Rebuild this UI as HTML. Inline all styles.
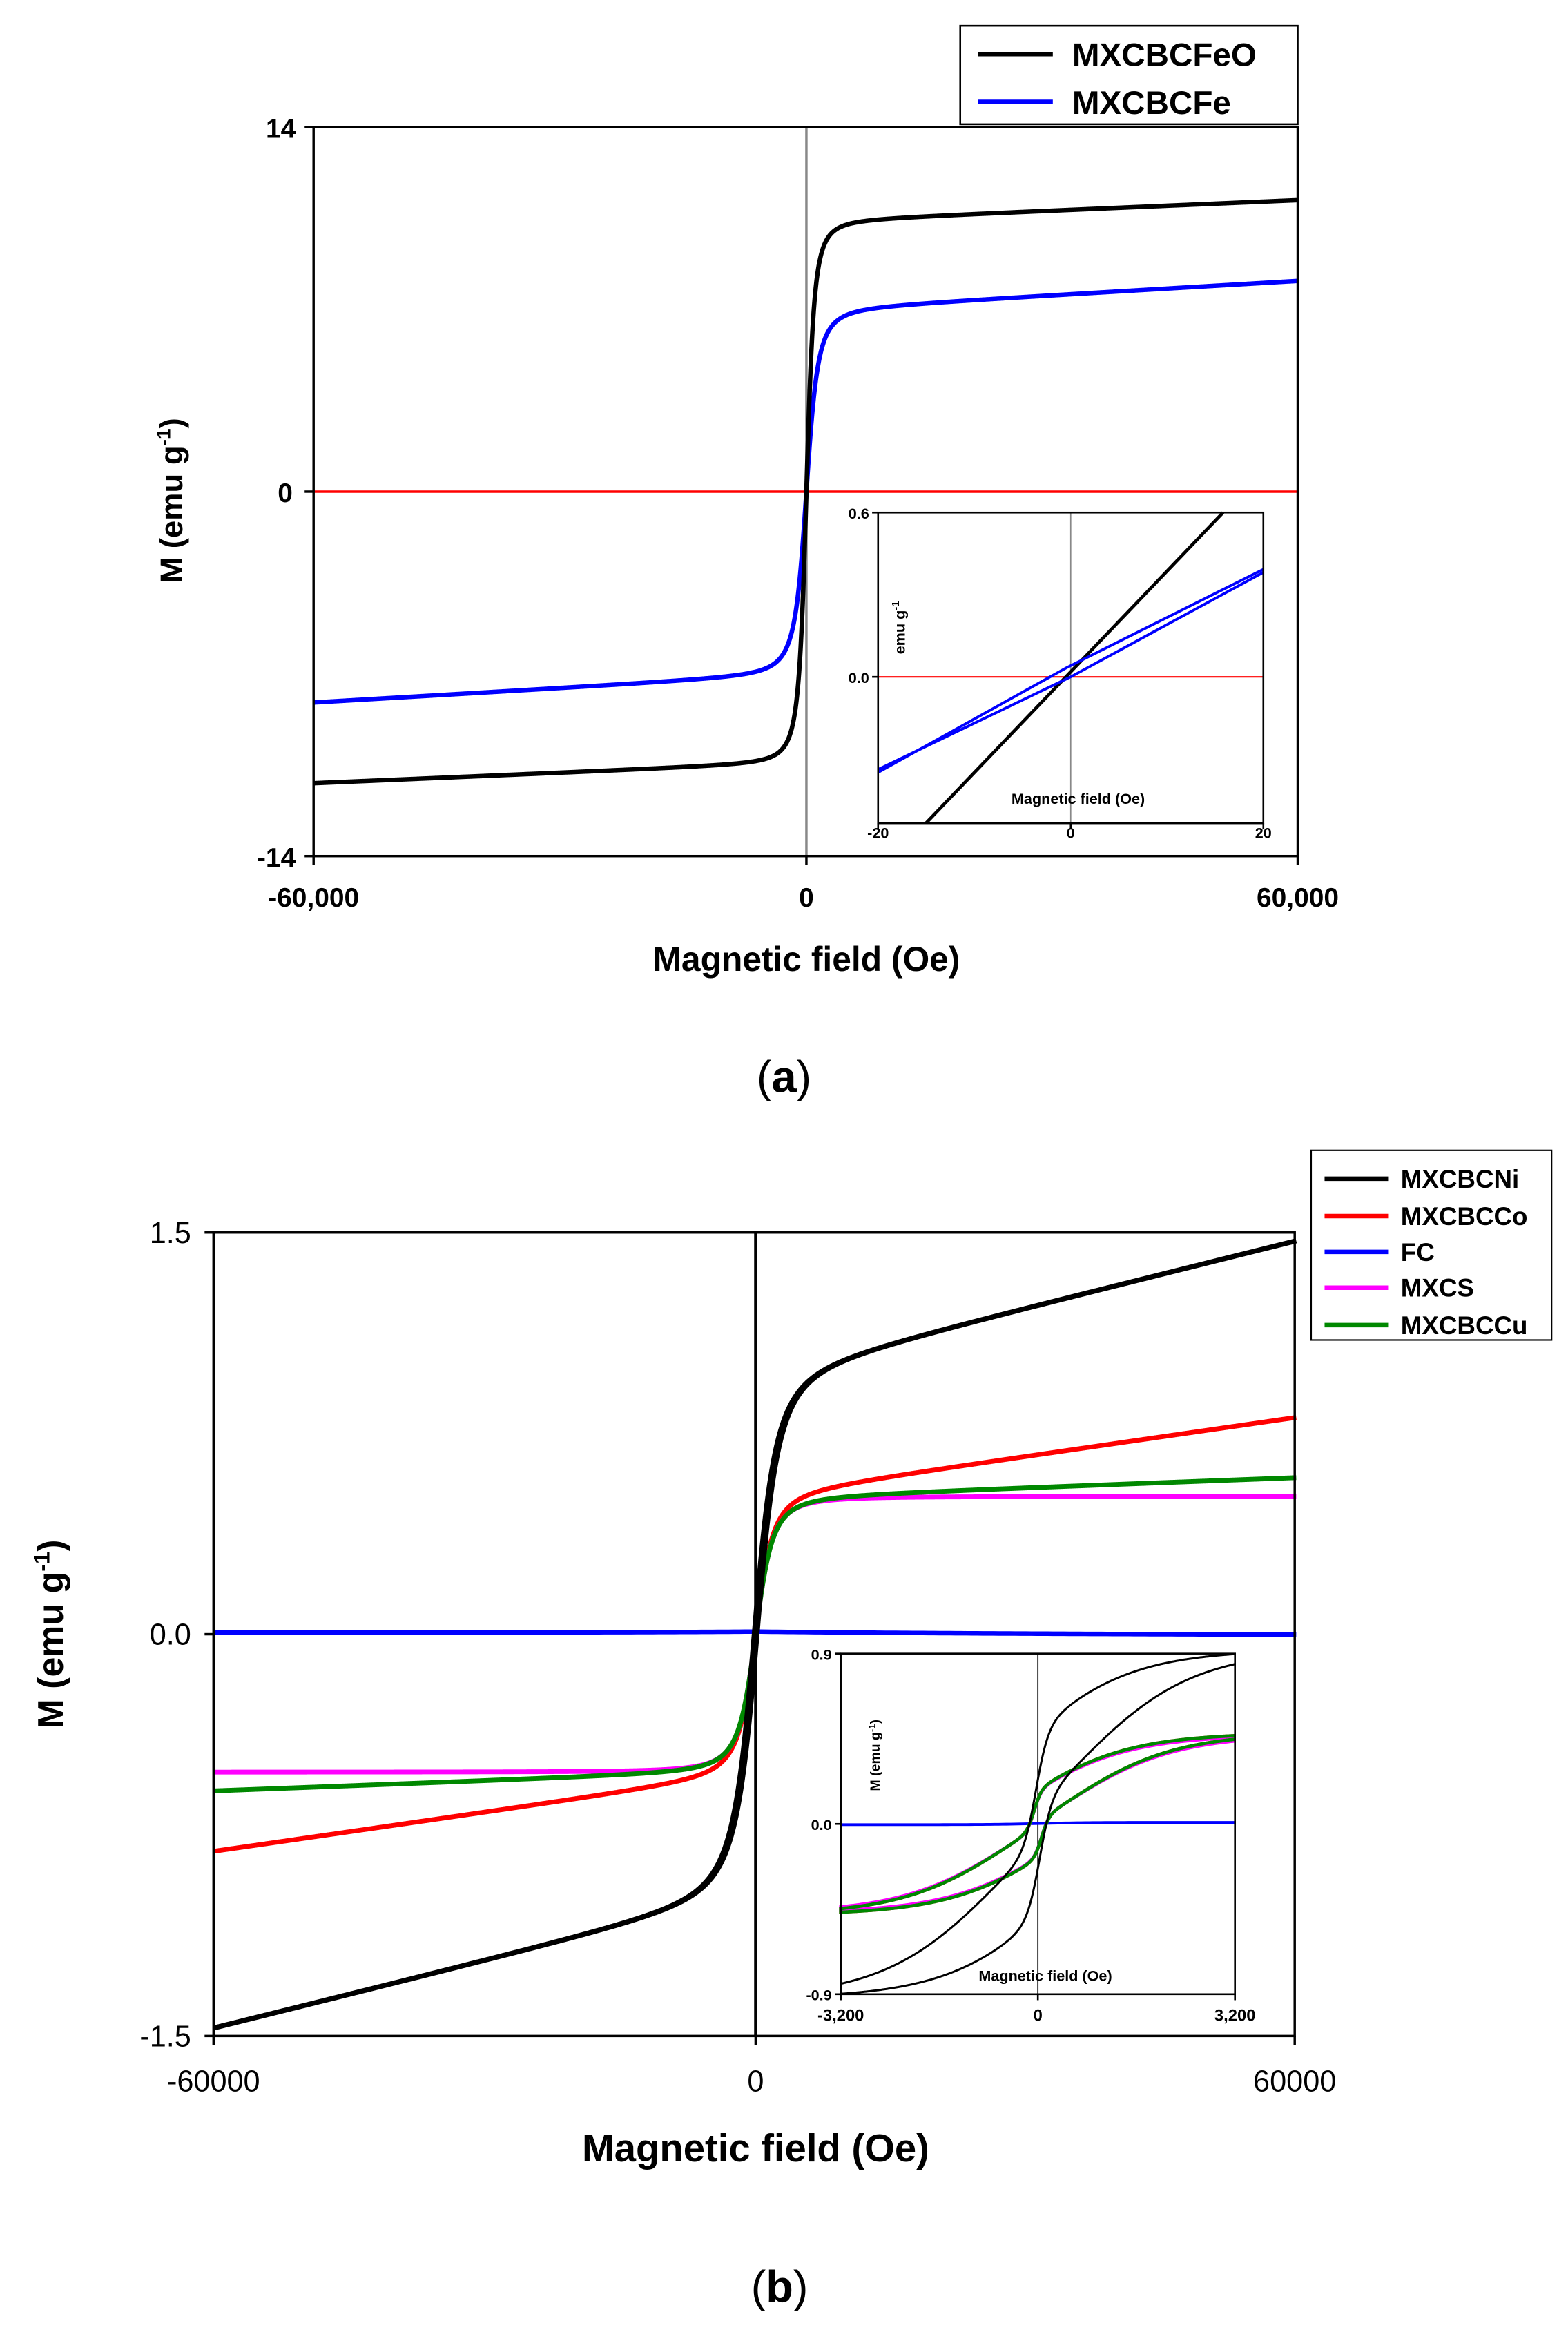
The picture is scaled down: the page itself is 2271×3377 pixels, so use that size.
<!DOCTYPE html>
<html><head><meta charset="utf-8">
<style>
html,body{margin:0;padding:0;background:#fff;}
svg{display:block;}
text{font-family:"Liberation Sans",Arial,sans-serif;}
</style></head>
<body>
<svg id="s" width="2271" height="3377" viewBox="0 0 1050 1561" xmlns="http://www.w3.org/2000/svg">
<rect width="1050" height="1561" fill="#fff"/>
<g id="pa">
<line x1="210" y1="329" x2="869" y2="329" stroke="#f00" stroke-width="1.6"/>
<line x1="540" y1="85" x2="540" y2="573" stroke="#888" stroke-width="1.6"/>
<path id="aBlue" fill="none" stroke="#00f" stroke-width="3"/>
<path id="aBlack" fill="none" stroke="#000" stroke-width="3"/>
<rect x="210" y="85" width="659" height="488" fill="none" stroke="#000" stroke-width="1.6"/>
<g stroke="#000" stroke-width="1.6"><line x1="204" y1="85" x2="210" y2="85"/><line x1="204" y1="329" x2="210" y2="329"/><line x1="204" y1="573" x2="210" y2="573"/><line x1="210" y1="573" x2="210" y2="579"/><line x1="540" y1="573" x2="540" y2="579"/><line x1="869" y1="573" x2="869" y2="579"/></g>
<g font-weight="bold" font-size="18" text-anchor="end"><text x="198" y="92">14</text><text x="196" y="336">0</text><text x="198" y="580">-14</text></g>
<g font-weight="bold" font-size="18" text-anchor="middle"><text x="210" y="607">-60,000</text><text x="540" y="607">0</text><text x="869" y="607">60,000</text></g>
<text x="540" y="650" font-weight="bold" font-size="23" text-anchor="middle">Magnetic field (Oe)</text>
<text transform="translate(122,335) rotate(-90)" font-weight="bold" font-size="21" text-anchor="middle">M (emu g<tspan dy="-8" font-size="13">-1</tspan><tspan dy="8">)</tspan></text>
<text x="525" y="731" font-family="Liberation Serif,serif" font-size="30" text-anchor="middle">(<tspan font-weight="bold">a</tspan>)</text>
<rect x="643" y="17" width="226" height="66" fill="#fff" stroke="#000" stroke-width="1.2"/>
<line x1="655" y1="36" x2="705" y2="36" stroke="#000" stroke-width="3"/>
<line x1="655" y1="68" x2="705" y2="68" stroke="#00f" stroke-width="3"/>
<text x="718" y="44" font-weight="bold" font-size="22">MXCBCFeO</text>
<text x="718" y="76" font-weight="bold" font-size="22">MXCBCFe</text>
<rect x="588" y="343" width="258" height="208" fill="#fff"/>
<line x1="588" y1="453" x2="846" y2="453" stroke="#f00" stroke-width="1"/>
<line x1="717" y1="343" x2="717" y2="551" stroke="#888" stroke-width="0.8"/>
<line x1="620" y1="551" x2="819" y2="343" stroke="#000" stroke-width="2.2"/>
<polyline points="588,517 714,447 846,381" fill="none" stroke="#00f" stroke-width="1.8"/>
<polyline points="588,515 717,453 846,383" fill="none" stroke="#00f" stroke-width="1.8"/>
<rect x="588" y="343" width="258" height="208" fill="none" stroke="#000" stroke-width="1.2"/>
<g stroke="#000" stroke-width="1.2"><line x1="584" y1="343" x2="588" y2="343"/><line x1="584" y1="453" x2="588" y2="453"/><line x1="588" y1="551" x2="588" y2="555"/><line x1="717" y1="551" x2="717" y2="555"/><line x1="846" y1="551" x2="846" y2="555"/></g>
<g font-weight="bold" font-size="10" text-anchor="end"><text x="582" y="347">0.6</text><text x="582" y="457">0.0</text></g>
<g font-weight="bold" font-size="10" text-anchor="middle"><text x="588" y="561">-20</text><text x="717" y="561">0</text><text x="846" y="561">20</text></g>
<text x="722" y="538" font-weight="bold" font-size="10" text-anchor="middle">Magnetic field (Oe)</text>
<text transform="translate(606,420) rotate(-90)" font-weight="bold" font-size="10" text-anchor="middle">emu g<tspan dy="-4" font-size="7">-1</tspan></text>
</g>
<g id="pb">
<line x1="506" y1="825" x2="506" y2="1363" stroke="#000" stroke-width="2"/>
<path id="bFC" fill="none" stroke="#00f" stroke-width="3"/>
<path id="bCo" fill="none" stroke="#f00" stroke-width="3.2"/>
<path id="bMX" fill="none" stroke="#f0f" stroke-width="3.2"/>
<path id="bCu" fill="none" stroke="#080" stroke-width="3.2"/>
<path id="bNi" fill="none" stroke="#000" stroke-width="3.4"/>
<rect x="143" y="825" width="724" height="538" fill="none" stroke="#000" stroke-width="1.6"/>
<g stroke="#000" stroke-width="1.6"><line x1="137" y1="825" x2="143" y2="825"/><line x1="137" y1="1094" x2="143" y2="1094"/><line x1="137" y1="1363" x2="143" y2="1363"/><line x1="143" y1="1363" x2="143" y2="1369"/><line x1="506" y1="1363" x2="506" y2="1369"/><line x1="867" y1="1363" x2="867" y2="1369"/></g>
<g font-size="20" text-anchor="end"><text x="128" y="832">1.5</text><text x="128" y="1101">0.0</text><text x="128" y="1370">-1.5</text></g>
<g font-size="20" text-anchor="middle"><text x="143" y="1400">-60000</text><text x="506" y="1400">0</text><text x="867" y="1400">60000</text></g>
<text x="506" y="1447" font-weight="bold" font-size="26" text-anchor="middle">Magnetic field (Oe)</text>
<text transform="translate(42,1094) rotate(-90)" font-weight="bold" font-size="24" text-anchor="middle">M (emu g<tspan dy="-9" font-size="15">-1</tspan><tspan dy="9">)</tspan></text>
<text x="522" y="1541" font-family="Liberation Serif,serif" font-size="30" text-anchor="middle">(<tspan font-weight="bold">b</tspan>)</text>
<rect x="878" y="770" width="161" height="127" fill="#fff" stroke="#000" stroke-width="1"/>
<g stroke-width="3"><line x1="887" y1="789" x2="930" y2="789" stroke="#000"/><line x1="887" y1="814" x2="930" y2="814" stroke="#f00"/><line x1="887" y1="838" x2="930" y2="838" stroke="#00f"/><line x1="887" y1="862" x2="930" y2="862" stroke="#f0f"/><line x1="887" y1="887" x2="930" y2="887" stroke="#080"/></g>
<g font-weight="bold" font-size="17"><text x="938" y="795">MXCBCNi</text><text x="938" y="820">MXCBCCo</text><text x="938" y="844">FC</text><text x="938" y="868">MXCS</text><text x="938" y="893">MXCBCCu</text></g>
<rect x="563" y="1107" width="264" height="228" fill="#fff"/>
<line x1="695" y1="1107" x2="695" y2="1335" stroke="#000" stroke-width="0.8"/>
<path id="iFC" fill="none" stroke="#00f" stroke-width="1.8"/>
<path id="iCo" fill="none" stroke="#f00" stroke-width="2.2"/>
<path id="iMX" fill="none" stroke="#f0f" stroke-width="2.2"/>
<path id="iCu" fill="none" stroke="#080" stroke-width="2.2"/>
<path id="iNi" fill="none" stroke="#000" stroke-width="1.4"/>
<rect x="563" y="1107" width="264" height="228" fill="none" stroke="#000" stroke-width="1.2"/>
<g stroke="#000" stroke-width="1.2"><line x1="559" y1="1107" x2="563" y2="1107"/><line x1="559" y1="1221" x2="563" y2="1221"/><line x1="559" y1="1335" x2="563" y2="1335"/><line x1="563" y1="1335" x2="563" y2="1339"/><line x1="695" y1="1335" x2="695" y2="1339"/><line x1="827" y1="1335" x2="827" y2="1339"/></g>
<g font-weight="bold" font-size="10" text-anchor="end"><text x="557" y="1111">0.9</text><text x="557" y="1225">0.0</text><text x="557" y="1339">-0.9</text></g>
<g font-weight="bold" font-size="11" text-anchor="middle"><text x="563" y="1353">-3,200</text><text x="695" y="1353">0</text><text x="827" y="1353">3,200</text></g>
<text x="700" y="1326" font-weight="bold" font-size="10" text-anchor="middle">Magnetic field (Oe)</text>
<text transform="translate(589,1175) rotate(-90)" font-weight="bold" font-size="9" text-anchor="middle">M (emu g<tspan dy="-3" font-size="6">-1</tspan><tspan dy="3">)</tspan></text>
</g>
</svg>
<script>
function th(x){return Math.tanh(x);}
function sq(h,h0){return h/Math.sqrt(h*h+h0*h0);}
function path(f,x0,x1,X,Y,n){var d="";for(var i=0;i<=n;i++){var h=x0+(x1-x0)*i/n;d+=(i?"L":"M")+X(h).toFixed(2)+","+Y(f(h)).toFixed(2);}return d;}
function loop(fu,fl,x0,x1,X,Y,n){return path(fu,x1,x0,X,Y,n)+path(fl,x0,x1,X,Y,n).replace("M","L");}
function set(id,d){document.getElementById(id).setAttribute("d",d);}
var Xa=function(h){return 540+h*329.5/60000;}, Ya=function(m){return 329-m*17.43;};
set("aBlack",path(function(h){return 10.4*sq(h,1000)+0.8*h/60000;},-60000,60000,Xa,Ya,2400));
set("aBlue",path(function(h){return 7.0*sq(h,1500)+1.1*h/60000;},-60000,60000,Xa,Ya,2400));
var Xb=function(h){return 506+h*362/60000;}, Yb=function(m){return 1094-m*179.3;};
set("bNi",loop(function(h){return 0.97*sq(h+150,2500)+0.5*h/60000;},function(h){return 0.97*sq(h-150,2500)+0.5*h/60000;},-60000,60000,Xb,Yb,2400));
set("bCo",path(function(h){return 0.52*sq(h,2000)+0.29*h/60000;},-60000,60000,Xb,Yb,2400));
set("bCu",path(function(h){return 0.51*sq(h,2000)+0.075*h/60000;},-60000,60000,Xb,Yb,2400));
set("bMX",path(function(h){return 0.515*sq(h,2000);},-60000,60000,Xb,Yb,2400));
set("bFC",path(function(h){return 0.004-0.006*h/60000*(h<0?0.5:1)+0.006*Math.exp(-Math.abs(h)/20000);},-60000,60000,Xb,Yb,200));
var Xi=function(h){return 695+h*132/3200;}, Yi=function(m){return 1221-m*126.7;};
set("iNi",loop(function(h){return 0.3*th((h+30)/200)+0.62*th((h+600)/1900);},function(h){return 0.3*th((h-30)/200)+0.62*th((h-600)/1900);},-3200,3200,Xi,Yi,600));
function cu(s,a){return function(h){return 0.1*th((h+s*60)/120)+a*th((h+s*400)/1800);};}
set("iCo",loop(cu(1,0.38),cu(-1,0.38),-3200,3200,Xi,Yi,600));
set("iMX",loop(cu(1,0.37),cu(-1,0.37),-3200,3200,Xi,Yi,600));
set("iCu",loop(cu(1,0.38),cu(-1,0.38),-3200,3200,Xi,Yi,600));
set("iFC",path(function(h){return 0.006*th(h/800)+0.002;},-3200,3200,Xi,Yi,100));
</script>
</body></html>
